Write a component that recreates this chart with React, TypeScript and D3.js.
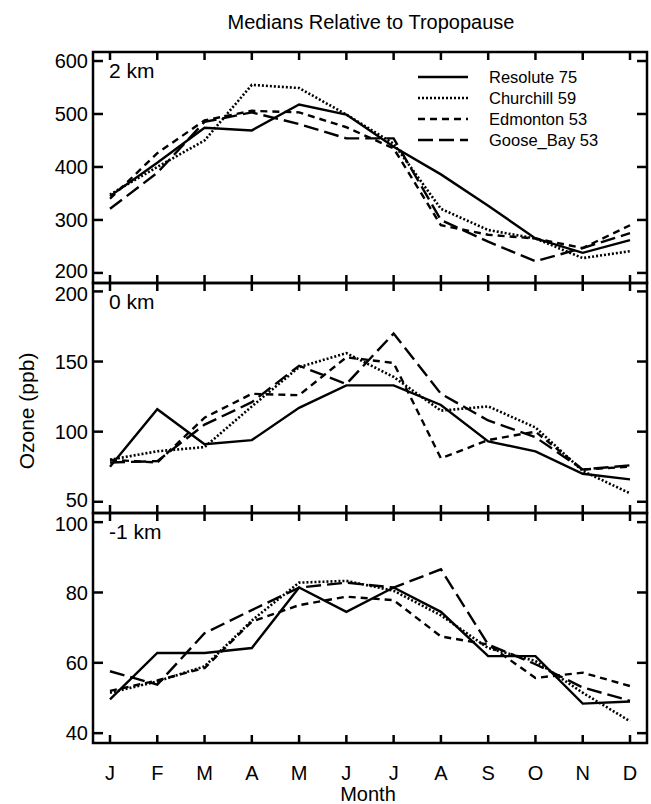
import React, { useEffect, useRef } from "react";
import * as d3 from "d3";

const months = ["J", "F", "M", "A", "M", "J", "J", "A", "S", "O", "N", "D"];
const stations = ["Resolute 75", "Churchill 59", "Edmonton 53", "Goose_Bay 53"];

// 2 km above tropopause
const resolute2 = [345, 408, 474, 469, 518, 499, 438, 386, 327, 265, 238, 262];
const churchill2 = [348, 400, 450, 555, 549, 499, 444, 321, 281, 265, 228, 241];
const edmonton2 = [340, 426, 488, 506, 503, 475, 435, 290, 272, 265, 247, 290];
const gooseBay2 = [321, 389, 485, 503, 481, 454, 454, 300, 259, 222, 247, 275];

// 0 km
const resolute0 = [75, 116, 91, 94, 117, 133, 133, 119, 93, 86, 70, 66];
const churchill0 = [80, 86, 89, 118, 146, 156, 139, 115, 118, 103, 72, 56];
const edmonton0 = [80, 78, 110, 127, 126, 153, 149, 81, 94, 100, 73, 75];
const gooseBay0 = [78, 79, 105, 121, 147, 134, 170, 127, 108, 96, 73, 76];

// -1 km
const resoluteM1 = [49.6, 62.8, 62.8, 64.2, 81.4, 74.5, 81.4, 74.5, 61.9, 61.9, 48.4, 49];
const churchillM1 = [51.5, 54.7, 59, 72, 82.8, 83.3, 80.5, 73.5, 64.2, 60.5, 51.5, 43.4];
const edmontonM1 = [52, 55, 58.5, 71.7, 76.4, 78.8, 77.8, 67.5, 65.2, 55.7, 57.2, 53.4];
const gooseBayM1 = [57.6, 53.8, 68.4, 75, 81.4, 82.8, 81.4, 86.6, 65.2, 59.6, 53, 49.2];

const ticks2 = [200, 300, 400, 500, 600];
const ticks0 = [50, 100, 150, 200];
const ticksM1 = [40, 60, 80, 100];

const dashes = ["none", "2,2", "7,5", "15,6"];

const App = () => {
  const ref = useRef<SVGSVGElement | null>(null);

  useEffect(() => {
    const svg = d3.select(ref.current);
    svg.selectAll("*").remove();

    const font = "'Liberation Sans', Arial, sans-serif";
    const left = 93;
    const right = 647;

    const x = d3.scaleLinear().domain([0, 11]).range([110, 630]);

    const panels = [
      { label: "2 km", series: [resolute2, churchill2, edmonton2, gooseBay2], ticks: ticks2, domain: [181, 617], top: 52, bottom: 283 },
      { label: "0 km", series: [resolute0, churchill0, edmonton0, gooseBay0], ticks: ticks0, domain: [42, 206], top: 283, bottom: 513 },
      { label: "-1 km", series: [resoluteM1, churchillM1, edmontonM1, gooseBayM1], ticks: ticksM1, domain: [37.2, 102.6], top: 513, bottom: 743 },
    ];

    panels.forEach((p, pi) => {
      const y = d3.scaleLinear().domain(p.domain).range([p.bottom, p.top]);
      const g = svg.append("g");

      // frame
      g.append("rect")
        .attr("x", left)
        .attr("y", p.top)
        .attr("width", right - left)
        .attr("height", p.bottom - p.top)
        .attr("fill", "none")
        .attr("stroke", "black")
        .attr("stroke-width", 2.5);

      // month ticks, top and bottom
      months.forEach((m, i) => {
        g.append("line").attr("x1", x(i)).attr("x2", x(i)).attr("y1", p.top).attr("y2", p.top + 8)
          .attr("stroke", "black").attr("stroke-width", 2.5);
        g.append("line").attr("x1", x(i)).attr("x2", x(i)).attr("y1", p.bottom).attr("y2", p.bottom - 8)
          .attr("stroke", "black").attr("stroke-width", 2.5);
      });

      // y ticks both sides
      p.ticks.forEach((t, ti) => {
        g.append("line").attr("x1", left).attr("x2", left + 10).attr("y1", y(t)).attr("y2", y(t))
          .attr("stroke", "black").attr("stroke-width", 2.5);
        g.append("line").attr("x1", right).attr("x2", right - 10).attr("y1", y(t)).attr("y2", y(t))
          .attr("stroke", "black").attr("stroke-width", 2.5);
        // labels at the panel joins sit very close together, nudge them apart a bit
        let nudge = 0;
        if (ti === p.ticks.length - 1 && pi > 0) nudge = 2;
        if (ti === 0 && pi < panels.length - 1) nudge = -2;
        g.append("text")
          .attr("x", 88)
          .attr("y", y(t) + nudge)
          .attr("dy", "0.36em")
          .attr("text-anchor", "end")
          .style("font-family", font)
          .style("font-size", "20px")
          .text(t);
      });

      g.append("text")
        .attr("x", 109)
        .attr("y", p.top + 26)
        .style("font-family", font)
        .style("font-size", "21px")
        .text(p.label);

      const line = d3.line<number>()
        .x((d, i) => x(i))
        .y((d) => y(d));

      p.series.forEach((s, k) => {
        g.append("path")
          .datum(s)
          .attr("fill", "none")
          .attr("stroke", "black")
          .attr("stroke-width", k === 1 ? 2.6 : 2.4)
          .attr("stroke-dasharray", dashes[k])
          .attr("d", line);
      });
    });

    // legend
    stations.forEach((name, k) => {
      const ly = 77 + k * 21;
      svg.append("line")
        .attr("x1", 418).attr("x2", 468).attr("y1", ly).attr("y2", ly)
        .attr("stroke", "black").attr("stroke-width", k === 1 ? 2.6 : 2.4)
        .attr("stroke-dasharray", dashes[k]);
      svg.append("text")
        .attr("x", 489)
        .attr("y", ly)
        .attr("dy", "0.36em")
        .style("font-family", font)
        .style("font-size", "16.5px")
        .text(name);
    });

    // month labels
    months.forEach((m, i) => {
      svg.append("text")
        .attr("x", x(i))
        .attr("y", 780)
        .attr("text-anchor", "middle")
        .style("font-family", font)
        .style("font-size", "20px")
        .text(m);
    });

    svg.append("text")
      .attr("x", 368)
      .attr("y", 801)
      .attr("text-anchor", "middle")
      .style("font-family", font)
      .style("font-size", "20px")
      .text("Month");

    svg.append("text")
      .attr("transform", "rotate(-90)")
      .attr("x", -411)
      .attr("y", 34)
      .attr("text-anchor", "middle")
      .style("font-family", font)
      .style("font-size", "21px")
      .text("Ozone (ppb)");

    svg.append("text")
      .attr("x", 371)
      .attr("y", 29)
      .attr("text-anchor", "middle")
      .style("font-family", font)
      .style("font-size", "20px")
      .text("Medians Relative to Tropopause");
  }, []);

  return (
    <svg
      ref={ref}
      width={651}
      height={804}
      style={{ position: "absolute", left: 0, top: 0, background: "white" }}
    />
  );
};

export default App;
